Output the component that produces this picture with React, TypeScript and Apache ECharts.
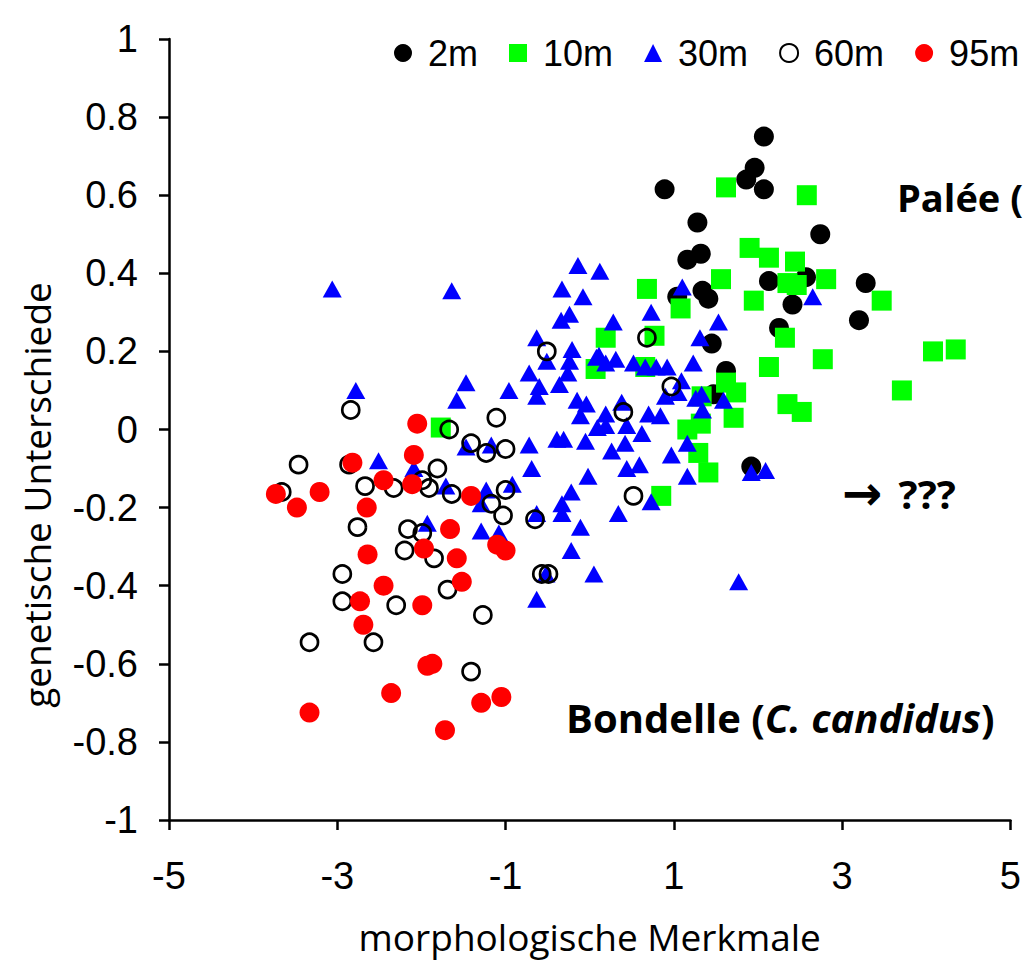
import React, { useEffect, useRef } from 'react';
import * as echarts from 'echarts';

const seriesNames = ['2m', '10m', '30m', '60m', '95m'];

const d2m: number[][] = [
  [2.07, 0.75], [1.96, 0.67], [1.86, 0.64], [2.07, 0.615], [0.89, 0.615], [1.28, 0.53], [2.74, 0.5],
  [1.32, 0.45], [1.16, 0.435], [2.13, 0.38], [2.57, 0.39], [3.28, 0.375], [1.34, 0.355], [1.41, 0.335],
  [1.04, 0.34], [2.41, 0.32], [3.2, 0.28], [2.25, 0.26], [1.45, 0.22], [1.62, 0.15], [1.47, 0.09], [1.92, -0.095],
];

const d10m: number[][] = [
  [1.62, 0.62], [2.58, 0.6], [1.9, 0.465], [2.13, 0.44], [2.44, 0.43], [2.81, 0.385], [1.56, 0.385],
  [2.35, 0.375], [2.46, 0.37], [0.68, 0.36], [3.47, 0.33], [1.95, 0.33], [1.08, 0.31], [2.32, 0.235],
  [4.08, 0.2], [4.35, 0.205], [0.77, 0.24], [2.77, 0.18], [2.13, 0.16], [3.71, 0.1], [2.35, 0.065],
  [2.52, 0.045], [1.62, 0.12], [1.74, 0.095], [1.71, 0.03], [1.16, 0.0], [1.32, 0.015], [0.19, 0.235],
  [0.07, 0.155], [0.66, 0.16], [1.29, -0.06], [1.41, -0.11], [-1.77, 0.005], [0.85, -0.17], [1.33, 0.085],
];

const d30m: number[][] = [
  [-3.06, 0.36], [-1.64, 0.355], [-0.14, 0.42], [0.12, 0.405], [-0.33, 0.36], [-0.08, 0.34], [-0.34, 0.28],
  [-0.24, 0.295], [-0.63, 0.235], [-0.51, 0.175], [-0.21, 0.205], [-0.24, 0.175], [-0.26, 0.145], [-0.72, 0.145],
  [-0.6, 0.11], [-0.63, 0.085], [-0.36, 0.115], [0.08, 0.185], [-0.96, 0.1], [-1.47, 0.12], [-1.58, 0.075],
  [-2.78, 0.1], [-0.15, 0.075], [-0.04, 0.065], [-0.11, 0.035], [-0.39, -0.025], [-0.31, -0.025], [-0.05, -0.03],
  [-0.72, -0.04], [-1.47, -0.045], [-1.17, -0.04], [-0.69, -0.1], [-0.02, -0.12], [-2.51, -0.08], [-2.09, -0.1],
  [-1.71, -0.145], [-1.23, -0.155], [-1.29, -0.19], [-0.92, -0.14], [-0.22, -0.16], [-1.93, -0.24], [-1.29, -0.26],
  [-1.08, -0.265], [-0.63, -0.215], [-0.63, -0.435], [-0.52, -0.37], [0.19, 0.04], [0.19, 0.01], [0.38, 0.07],
  [0.44, 0.01], [0.7, 0.04], [0.84, 0.035], [0.62, -0.01], [0.26, -0.055], [0.42, -0.035], [0.44, -0.1],
  [0.59, -0.09], [0.97, -0.065], [1.16, -0.035], [1.16, -0.12], [-0.33, -0.19], [-0.33, -0.215], [0.34, -0.215],
  [0.73, -0.185], [-0.11, -0.25], [-0.22, -0.31], [0.05, -0.37], [1.77, -0.39], [1.92, -0.11], [2.09, -0.105],
  [1.33, 0.09], [1.26, 0.08], [1.59, 0.075], [1.34, 0.05], [0.9, 0.085], [1.05, 0.095], [0.28, 0.275],
  [0.73, 0.3], [1.1, 0.365], [0.11, 0.19], [0.19, 0.17], [0.31, 0.18], [0.52, 0.17], [0.66, 0.16],
  [0.79, 0.16], [0.92, 0.16], [1.23, 0.17], [1.31, 0.235], [1.53, 0.275], [2.65, 0.34], [1.09, 0.125], [0.09, 0.005],
];

const d60m: number[][] = [
  [-2.84, 0.05], [-0.51, 0.2], [-1.67, 0.0], [-1.11, 0.03], [-1.41, -0.035], [-1.23, -0.06], [-1.0, -0.05],
  [-3.46, -0.09], [-2.86, -0.09], [-1.81, -0.1], [-1.99, -0.13], [-1.91, -0.15], [-2.67, -0.145], [-2.33, -0.15],
  [-1.64, -0.165], [-1.0, -0.155], [-3.66, -0.16], [-1.17, -0.19], [-1.03, -0.22], [-0.65, -0.23], [-2.76, -0.25],
  [-2.16, -0.255], [-1.99, -0.265], [-2.2, -0.31], [-1.85, -0.33], [-2.94, -0.37], [-1.69, -0.41], [-2.94, -0.44],
  [-2.3, -0.45], [-1.27, -0.475], [-3.33, -0.545], [-2.57, -0.545], [-1.41, -0.62], [-0.57, -0.37], [-0.49, -0.37],
  [0.4, 0.045], [0.52, -0.17], [0.97, 0.11], [0.68, 0.235],
];

const d95m: number[][] = [
  [-2.05, 0.015], [-2.09, -0.065], [-2.82, -0.085], [-2.45, -0.13], [-2.11, -0.14], [-3.21, -0.16], [-3.73, -0.165],
  [-3.48, -0.2], [-1.41, -0.17], [-2.65, -0.2], [-1.66, -0.255], [-1.97, -0.305], [-1.1, -0.295], [-1.0, -0.31],
  [-2.64, -0.32], [-1.58, -0.33], [-1.52, -0.39], [-2.45, -0.4], [-2.73, -0.44], [-1.99, -0.45], [-2.69, -0.5],
  [-1.87, -0.6], [-1.93, -0.605], [-2.36, -0.675], [-1.29, -0.7], [-1.05, -0.685], [-3.33, -0.725], [-1.72, -0.77],
];

const xTitle = 'morphologische Merkmale';
const yTitle = 'genetische Unterschiede';

export default function App() {
  const ref = useRef<HTMLDivElement>(null);
  useEffect(() => {
    document.body.style.margin = '0';
    const chart = echarts.init(ref.current!, undefined, { renderer: 'svg' });
    const tickFont = '"Liberation Sans", Arial, sans-serif';
    const titleFont = '"Open Sans", sans-serif';
    const boldRich = {
      b: { fontFamily: titleFont, fontWeight: 'bold', fontSize: 40, fill: '#000' },
      i: { fontFamily: titleFont, fontWeight: 'bold', fontStyle: 'italic', fontSize: 40, fill: '#000' },
      p: { fontFamily: titleFont, fontWeight: 'bold', fontSize: 38, fill: '#000' },
      a: { fontFamily: '"DejaVu Sans", sans-serif', fontWeight: 'bold', fontSize: 48, fill: '#000', padding: [0, 6, 0, 0] },
    };
    chart.setOption({
      animation: false,
      backgroundColor: '#fff',
      grid: { left: 169, right: 11, top: 39, bottom: 154, containLabel: false },
      legend: {
        left: 394,
        top: 35,
        width: 630,
        padding: 0,
        itemWidth: 18,
        itemHeight: 18,
        itemGap: 31,
        textStyle: { fontFamily: tickFont, fontSize: 36, color: '#000', padding: [0, 0, 0, 11] },
        data: seriesNames,
      },
      xAxis: {
        type: 'value',
        min: -5,
        max: 5,
        interval: 2,
        name: xTitle,
        nameLocation: 'middle',
        nameGap: 98,
        nameTextStyle: { fontFamily: titleFont, fontSize: 37, color: '#000' },
        axisLine: { onZero: false, lineStyle: { color: '#000', width: 2.5 } },
        axisTick: { show: true, length: 10, lineStyle: { color: '#000', width: 2.5 } },
        axisLabel: { margin: 37, fontFamily: tickFont, fontSize: 38, color: '#000' },
        splitLine: { show: false },
      },
      yAxis: {
        type: 'value',
        min: -1,
        max: 1,
        interval: 0.2,
        axisLine: { show: true, onZero: false, lineStyle: { color: '#000', width: 2.5 } },
        axisTick: { show: true, length: 10, lineStyle: { color: '#000', width: 2.5 } },
        axisLabel: {
          margin: 31,
          fontFamily: tickFont,
          fontSize: 38,
          color: '#000',
          formatter: (v: number) => String(parseFloat(v.toFixed(1))),
        },
        splitLine: { show: false },
      },
      graphic: [
        {
          type: 'text',
          x: 36,
          y: 495,
          rotation: Math.PI / 2,
          style: { text: yTitle, font: `37px ${titleFont}`, fill: '#000', align: 'center', verticalAlign: 'middle' },
        },
        {
          type: 'text',
          x: 897,
          y: 197,
          style: {
            text: '{p|Palée (}',
            rich: boldRich,
            align: 'left',
            verticalAlign: 'middle',
          },
        },
        {
          type: 'text',
          x: 566,
          y: 717,
          style: {
            text: '{b|Bondelle (}{i|C. candidus}{b|)}',
            rich: boldRich,
            align: 'left',
            verticalAlign: 'middle',
          },
        },
        {
          type: 'text',
          x: 842,
          y: 493,
          style: {
            text: '{a|→}{b| ???}',
            rich: boldRich,
            align: 'left',
            verticalAlign: 'middle',
          },
        },
      ],
      series: [
        {
          name: '2m', type: 'scatter', data: d2m, symbol: 'circle', symbolSize: 20,
          itemStyle: { color: '#000', opacity: 1 },
        },
        {
          name: '10m', type: 'scatter', data: d10m, symbol: 'rect', symbolSize: 20,
          itemStyle: { color: '#00ff00', opacity: 1 },
        },
        {
          name: '30m', type: 'scatter', data: d30m, symbol: 'triangle', symbolSize: [19, 17],
          itemStyle: { color: '#0000ff', opacity: 1 },
        },
        {
          name: '60m', type: 'scatter', data: d60m, symbol: 'circle', symbolSize: 17,
          itemStyle: { color: 'rgba(0,0,0,0)', borderColor: '#000', borderWidth: 2.7, opacity: 1 },
        },
        {
          name: '95m', type: 'scatter', data: d95m, symbol: 'circle', symbolSize: 20,
          itemStyle: { color: '#ff0000', opacity: 1 },
        },
      ],
    });
    return () => chart.dispose();
  }, []);
  return <div ref={ref} style={{ width: 1024, height: 974 }} />;
}
